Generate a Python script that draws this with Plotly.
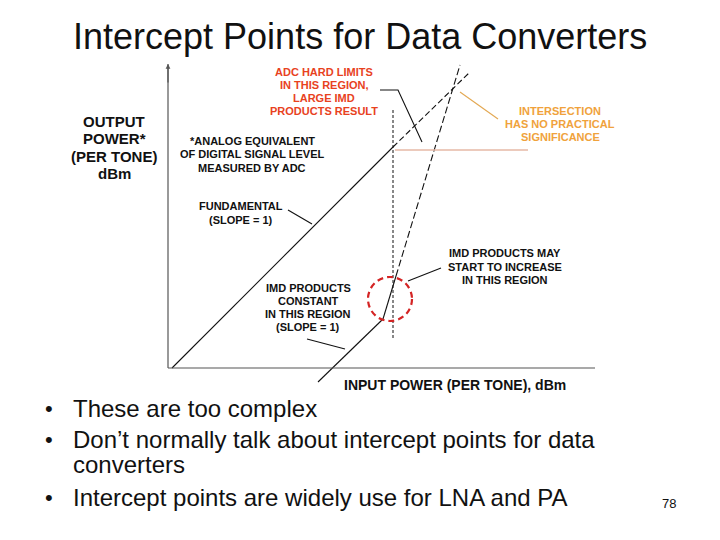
import plotly.graph_objects as go

# ---- data (input power / output power, arbitrary dB units; origin = axis corner) ----
fund_solid_x = [4, 225]
fund_solid_y = [0, 221]
fund_dash_x = [225, 302]
fund_dash_y = [221, 296]

imd_const_x = [150, 215]
imd_const_y = [-14, 49]
imd_rise_solid_x = [215, 228]
imd_rise_solid_y = [49, 92]
imd_rise_dash_x = [228, 292]
imd_rise_dash_y = [92, 303]

adc_limit_x = [225, 225]
adc_limit_y = [30, 258]
fullscale_x = [227, 360]
fullscale_y = [218, 218]

circle_center = (222, 69)
circle_radius = 22

x_axis_end = 427
y_axis_end = 304

FONT = "Arial, Liberation Sans, sans-serif"
BLACK = "#111111"
RED_TXT = "#e8421e"
ORANGE = "#f0a23c"

fig = go.Figure()

def line(x, y, dash="solid", color=BLACK, width=1.1):
    fig.add_trace(go.Scatter(x=x, y=y, mode="lines",
                             line=dict(color=color, width=width, dash=dash),
                             hoverinfo="skip", showlegend=False))

line(fund_solid_x, fund_solid_y)
line(fund_dash_x, fund_dash_y, dash="6px,3px")
line(imd_const_x, imd_const_y)
line(imd_rise_solid_x, imd_rise_solid_y)
line(imd_rise_dash_x, imd_rise_dash_y, dash="7px,3px")
line(adc_limit_x, adc_limit_y, dash="3px,2px", width=1)
line(fullscale_x, fullscale_y, color="#e6b9a6", width=1.5)

shapes = []
# axes
shapes.append(dict(type="line", xref="x", yref="y", x0=0, y0=0, x1=x_axis_end, y1=0,
                   line=dict(color="#555555", width=1.2)))
shapes.append(dict(type="line", xref="x", yref="y", x0=0, y0=0, x1=0, y1=y_axis_end,
                   line=dict(color="#555555", width=1.2)))
# red dashed circle
cx, cy = circle_center
shapes.append(dict(type="circle", xref="x", yref="y",
                   x0=cx - circle_radius, x1=cx + circle_radius,
                   y0=cy - circle_radius, y1=cy + circle_radius,
                   line=dict(color="#d42424", width=2.2, dash="6px,4px")))
# leader lines
leaders = [
    ([212, 230, 254], [278, 278, 226], BLACK),
    ([292, 330], [276, 249], "#e3a852"),
    ([120, 144], [158, 144], BLACK),
    ([139, 177], [29, 19], BLACK),
    ([240, 273], [87, 100], BLACK),
]
for lx, ly, col in leaders:
    path = "M " + " L ".join(f"{a},{b}" for a, b in zip(lx, ly))
    shapes.append(dict(type="path", xref="x", yref="y", path=path,
                       line=dict(color=col, width=1.1)))

annotations = []
# axis arrowhead
annotations.append(dict(x=0, y=y_axis_end, ax=0, ay=y_axis_end - 20, xref="x", yref="y",
                        axref="x", ayref="y", showarrow=True, arrowhead=2, arrowsize=0.8,
                        arrowwidth=1.2, arrowcolor="#555555", text=""))

def label(x, y, text, size=11, color=BLACK, bold=True, xref="x", yref="y",
          xanchor="center"):
    t = f"<b>{text}</b>" if bold else text
    annotations.append(dict(x=x, y=y, xref=xref, yref=yref, text=t, showarrow=False,
                            xanchor=xanchor, yanchor="middle",
                            font=dict(family=FONT, size=size, color=color)))

def block(cx_px, ys_px, lines, size=11, color=BLACK):
    # positions given relative to the axis corner (168, 368)
    for yp, txt in zip(ys_px, lines):
        label(cx_px - 168, 368 - yp, txt, size=size, color=color)

block(324, [72, 85, 98, 111],
      ["ADC HARD LIMITS", "IN THIS REGION,", "LARGE IMD", "PRODUCTS RESULT"], color=RED_TXT)
block(252, [141, 154, 168],
      ["*ANALOG EQUIVALENT", "OF DIGITAL SIGNAL LEVEL", "MEASURED BY ADC"])
block(114, [121, 138, 156, 173], ["OUTPUT", "POWER*", "(PER TONE)", "dBm"], size=15)
block(241, [206, 220], ["FUNDAMENTAL", "(SLOPE = 1)"])
block(308, [288, 301, 314, 327], ["IMD PRODUCTS", "CONSTANT", "IN THIS REGION", "(SLOPE = 1)"])
block(505, [253, 267, 280], ["IMD PRODUCTS MAY", "START TO INCREASE", "IN THIS REGION"])
block(560, [111, 124, 137], ["INTERSECTION", "HAS NO PRACTICAL", "SIGNIFICANCE"], color=ORANGE)
block(455, [385], ["INPUT POWER (PER TONE), dBm"], size=14)

# slide text
label(0.5, 0.932, "Intercept Points for Data Converters", size=36, bold=False,
      xref="paper", yref="paper")
bullets = [
    (0.2444, "These are too complex", True),
    (0.1852, "Don\u2019t normally talk about intercept points for data", True),
    (0.1389, "converters", False),
    (0.0778, "Intercept points are widely use for LNA and PA", True),
]
for yy, txt, has_bullet in bullets:
    if has_bullet:
        label(0.068, yy, "\u2022", size=22, bold=False, xref="paper", yref="paper")
    label(0.099, yy, txt, size=24, bold=False, xref="paper", yref="paper", xanchor="left")
label(0.929, 0.0667, "78", size=13, bold=False, xref="paper", yref="paper")

fig.update_layout(
    width=720, height=540,
    margin=dict(l=0, r=0, t=0, b=0),
    paper_bgcolor="white", plot_bgcolor="white",
    xaxis=dict(range=[-168, 552], visible=False, fixedrange=True),
    yaxis=dict(range=[-172, 368], visible=False, fixedrange=True),
    shapes=shapes, annotations=annotations, showlegend=False,
)
fig.write_html("out.html", config={"displayModeBar": False},
               post_script="document.body.style.margin='0px';")
